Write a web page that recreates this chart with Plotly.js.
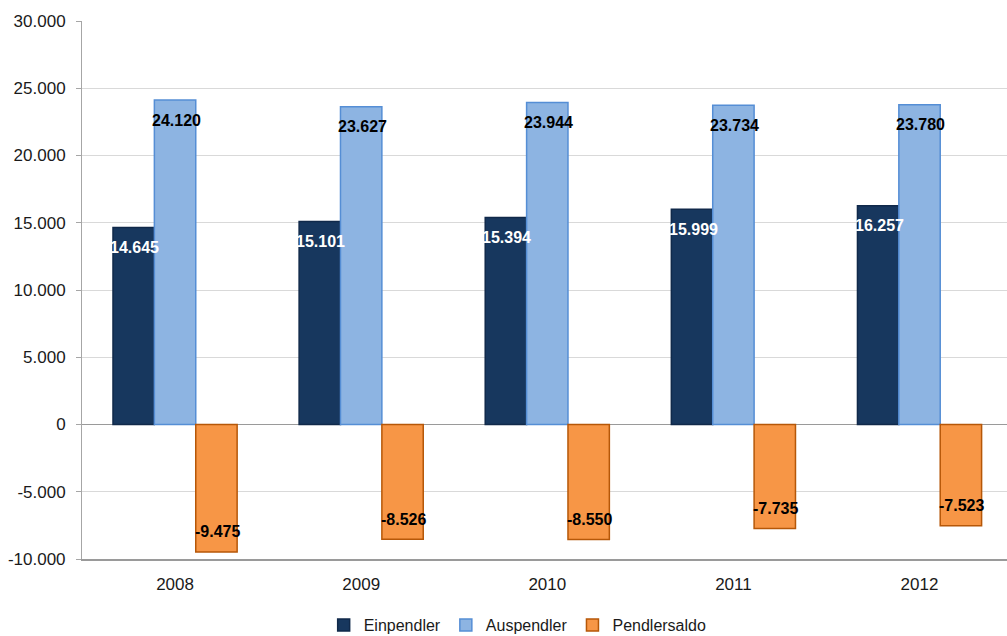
<!DOCTYPE html>
<html>
<head>
<meta charset="utf-8">
<script src="https://cdn.plot.ly/plotly-3.0.1.min.js"></script>
<style>html,body{margin:0;padding:0;overflow:hidden;background:#fff}</style>
</head>
<body>
<div id="chart" style="width:1007px;height:636px"></div>
<script>
const years = ["2008", "2009", "2010", "2011", "2012"];
const einpendler = [14645, 15101, 15394, 15999, 16257];
const auspendler = [24120, 23627, 23944, 23734, 23780];
const pendlersaldo = [-9475, -8526, -8550, -7735, -7523];
const tickVals = [-10000, -5000, 0, 5000, 10000, 15000, 20000, 25000, 30000];
const tickText = ["-10.000", "-5.000", "0", "5.000", "10.000", "15.000", "20.000", "25.000", "30.000"];

function fmt(v) {
  const s = Math.abs(v).toString().replace(/\B(?=(\d{3})+(?!\d))/g, ".");
  return (v < 0 ? "-" : "") + s;
}

const labelFont = "'Liberation Sans', Arial, sans-serif";
const baseFont = "'Liberation Sans', Arial, sans-serif";

const traces = [
  {name: "Einpendler", y: einpendler, color: "#17375E", line: "#10294a"},
  {name: "Auspendler", y: auspendler, color: "#8DB4E2", line: "#558ED5"},
  {name: "Pendlersaldo", y: pendlersaldo, color: "#F79646", line: "#B65708"}
].map(s => ({
  type: "bar",
  name: s.name,
  x: [0, 1, 2, 3, 4],
  y: s.y,
  marker: {color: s.color, line: {color: s.line, width: 1.5}},
  hoverinfo: "none"
}));

const series = [einpendler, auspendler, pendlersaldo];
const colors = ["#ffffff", "#000000", "#000000"];
const bargap = 0.333;
const groupW = 1 - bargap;
const annotations = [];
series.forEach((arr, si) => {
  arr.forEach((v, i) => {
    annotations.push({
      x: i + (-groupW / 2 + groupW / 3 * (si + 0.5)),
      xref: "x",
      y: v,
      yref: "y",
      text: "<b>" + fmt(v) + "</b>",
      showarrow: false,
      xanchor: "center",
      yanchor: "middle",
      xshift: 1,
      yshift: v >= 0 ? -20 : 20,
      font: {family: labelFont, size: 16, color: colors[si]}
    });
  });
});

const layout = {
  width: 1007,
  height: 636,
  margin: {l: 82, r: 0, t: 21, b: 77, autoexpand: false},
  paper_bgcolor: "#ffffff",
  plot_bgcolor: "#ffffff",
  barmode: "group",
  bargap: bargap,
  bargroupgap: 0,
  font: {family: baseFont, size: 17, color: "#1a1a1a"},
  xaxis: {
    type: "linear",
    range: [-0.5, 4.47],
    tickvals: [0, 1, 2, 3, 4],
    ticktext: years,
    showgrid: false,
    zeroline: false,
    showline: true,
    linecolor: "#9a9a9a",
    linewidth: 2,
    ticks: "",
    ticklabelstandoff: 9,
    automargin: false,
    tickfont: {family: baseFont, size: 17, color: "#1a1a1a"}
  },
  yaxis: {
    range: [-10000, 30000],
    tickvals: tickVals,
    ticktext: tickText,
    showgrid: true,
    gridcolor: "#d9d9d9",
    gridwidth: 1,
    zeroline: true,
    zerolinecolor: "#9a9a9a",
    zerolinewidth: 1.5,
    showline: true,
    linecolor: "#a6a6a6",
    linewidth: 1,
    ticks: "outside",
    ticklen: 5,
    tickcolor: "#a6a6a6",
    ticklabelstandoff: 7,
    automargin: false,
    tickfont: {family: baseFont, size: 17, color: "#1a1a1a"}
  },
  legend: {
    orientation: "h",
    x: 0.471,
    xanchor: "center",
    yref: "container",
    y: 0.017,
    yanchor: "middle",
    font: {family: baseFont, size: 16, color: "#1a1a1a"},
    itemwidth: 30,
    traceorder: "normal"
  },
  annotations: annotations,
  showlegend: true
};

Plotly.newPlot("chart", traces, layout, {displayModeBar: false, staticPlot: true});
</script>
</body>
</html>
